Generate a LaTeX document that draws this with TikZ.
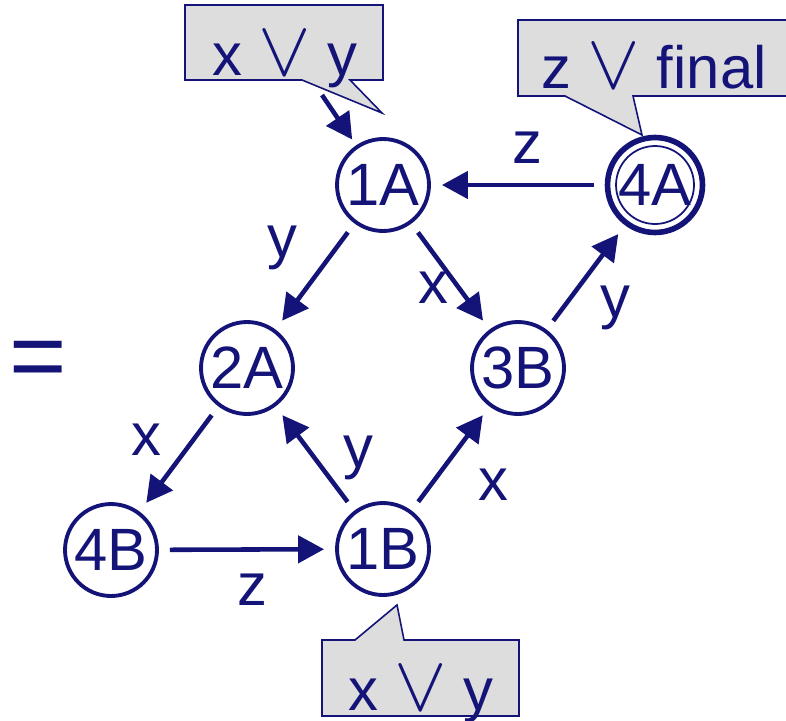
\documentclass[tikz,border=0pt]{standalone}
\usepackage{graphicx}
\usepackage{fontspec}
\setmainfont{Liberation Sans}
\usepackage{tikz}
\usetikzlibrary{arrows.meta, positioning}
\definecolor{mynavy}{RGB}{20,20,120}
\definecolor{mygray}{RGB}{221,221,221}
\newcommand{\bigfont}{\fontsize{34}{40}\selectfont}
\newcommand{\hugefont}{\fontsize{56}{60}\selectfont}
\newcommand{\orsym}{\scalebox{1.8}{$\vee$}}
\tikzset{
  statenode/.style={circle, draw=mynavy, text=mynavy, line width=2.2pt,
    minimum size=1.84cm, inner sep=0pt, font=\bigfont},
  finalnode/.style={statenode, line width=3.2pt, minimum size=1.9cm},
  lbl/.style={anchor=base, inner sep=0pt, text=mynavy, font=\bigfont},
  bubble/.style={draw=mynavy, fill=mygray, line width=0.9pt, line join=miter},
  arrow/.style={-{Triangle[length=0.52cm, width=0.54cm]}, line width=2.6pt,
    color=mynavy, shorten <=0.22cm, shorten >=0.22cm}
}

\begin{document}
\begin{tikzpicture}[x=0.02cm, y=-0.02cm]
  \useasboundingbox (0,0) rectangle (786,720);

  % Callouts
  \draw[bubble] (185,5) -- (383,5) -- (383,80) -- (350,80) -- (382,113)
    -- (302,80) -- (185,80) -- cycle;
  \draw[bubble] (518,20) -- (800,20) -- (800,96) -- (633,96) -- (642,135)
    -- (565,96) -- (518,96) -- cycle;
  \draw[bubble] (322,640) -- (355,640) -- (397,605) -- (404,640)
    -- (519,640) -- (519,716) -- (322,716) -- cycle;
  \node[lbl] (c1A) at (285,75) {x \orsym{} y};
  \node[lbl] (c4A) at (654,88) {z \orsym{} final};
  \node[lbl] (c1B) at (421,710) {x \orsym{} y};

  % Equals sign
  \node[text=mynavy, font=\hugefont] (eq) at (38,365) {=};

  % States
  \node[statenode] (n1A) at (383,185) {1A};
  \node[finalnode] (n4A) at (655,185) {4A};
  \node[statenode] (n2A) at (247,368) {2A};
  \node[statenode] (n3B) at (518,368) {3B};
  \node[statenode] (n4B) at (111,550) {4B};
  \node[statenode] (n1B) at (383,549) {1B};
  \draw[mynavy, line width=1pt] (n4A.center) circle[radius=0.78cm];

  % Transitions
  \coordinate (in1A) at (322,95);
  \draw[arrow, shorten <=0pt, shorten >=0.14cm] (in1A) -- (n1A);
  \draw[arrow] (n4A) -- (n1A);
  \draw[arrow] (n1A) -- (n2A);
  \draw[arrow] (n1A) -- (n3B);
  \draw[arrow] (n3B) -- (n4A);
  \draw[arrow] (n2A) -- (n4B);
  \draw[arrow] (n4B) -- (n1B);
  \draw[arrow] (n1B) -- (n2A);
  \draw[arrow] (n1B) -- (n3B);

  % Transition labels
  \node[lbl] (lz1) at (527,163) {z};
  \node[lbl] (ly1) at (282,257) {y};
  \node[lbl] (lx1) at (433,303) {x};
  \node[lbl] (ly2) at (615,317) {y};
  \node[lbl] (lx2) at (146,455) {x};
  \node[lbl] (lz2) at (252,605) {z};
  \node[lbl] (ly3) at (358,467) {y};
  \node[lbl] (lx3) at (493,500) {x};
\end{tikzpicture}
\end{document}
